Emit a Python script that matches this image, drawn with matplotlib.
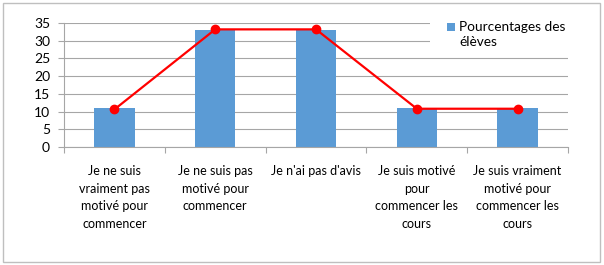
import matplotlib
matplotlib.use("Agg")
import matplotlib.pyplot as plt
from matplotlib.patches import Rectangle

categories = ["Je ne suis\nvraiment pas\nmotivé pour\ncommencer",
              "Je ne suis pas\nmotivé pour\ncommencer",
              "Je n'ai pas d'avis",
              "Je suis motivé\npour\ncommencer les\ncours",
              "Je suis vraiment\nmotivé pour\ncommencer les\ncours"]
bar_values = [11.0, 33.0, 33.0, 11.0, 11.0]
line_values = [10.6, 33.2, 33.2, 10.8, 10.8]
legend_label = "Pourcentages des\nélèves"
yticks = [0, 5, 10, 15, 20, 25, 30, 35]

plt.rcParams['font.family'] = ['Lato', 'DejaVu Sans']
BAR_COLOR = "#5B9BD5"

fig = plt.figure(figsize=(6.04, 2.65), dpi=100)
ax = fig.add_axes([64/604, 1-147/265, (568-64)/604, (147-23)/265])

x = list(range(len(categories)))
ax.bar(x, bar_values, width=0.4, color=BAR_COLOR, zorder=2, label=legend_label)
ax.plot(x, line_values, color="#FF0000", lw=1.6, marker='o', ms=6, zorder=3)

ax.set_xlim(-0.5, len(categories) - 0.5)
ax.set_ylim(0, 35)
ax.set_yticks(yticks)
ax.yaxis.grid(True, color="#A6A6A6", lw=0.8, zorder=0)
for s in ["top", "right"]:
    ax.spines[s].set_visible(False)
ax.spines["left"].set_color("#A6A6A6")
ax.spines["bottom"].set_color("#A6A6A6")
ax.tick_params(axis='y', length=4, color="#A6A6A6", labelsize=10, pad=6)
ax.set_xticks([i - 0.5 for i in range(len(categories) + 1)], minor=False)
ax.set_xticklabels([])
ax.tick_params(axis='x', length=4, color="#A6A6A6")
ax.set_xticks(x, minor=True)
ax.set_xticklabels(categories, minor=True, fontsize=9.0, linespacing=1.55, va='top')
ax.tick_params(axis='x', which='minor', length=0, pad=13)

# legend area (white box hides gridlines, like the original chart)
fig.patches.append(Rectangle((430/604, 1-52/265), 145/604, 38/265, transform=fig.transFigure,
                             facecolor='white', edgecolor='none', zorder=1))
fig.patches.append(Rectangle((447/604, 1-31/265), 8/604, 8/265, transform=fig.transFigure,
                             facecolor=BAR_COLOR, edgecolor='none', zorder=2))
fig.text(459/604, 1-21/265, legend_label, fontsize=9.8, va='top', ha='left',
         linespacing=1.35, zorder=3)

fig.patches.append(Rectangle((3/604, 3/265), 597/604, 259/265, transform=fig.transFigure,
                             fill=False, edgecolor="#BFBFBF", lw=1, zorder=3))

fig.savefig("out.png", dpi=100)
